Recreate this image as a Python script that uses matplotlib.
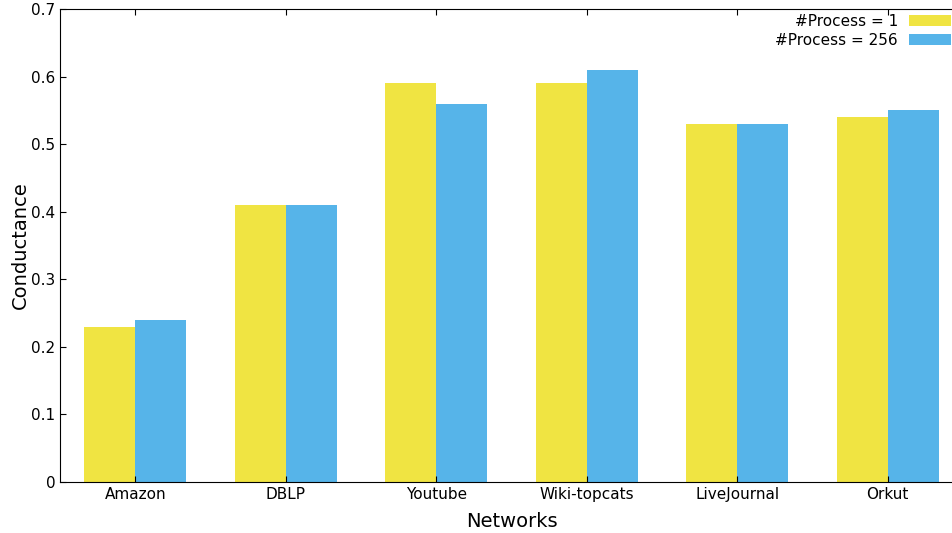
import matplotlib
matplotlib.use('Agg')
import matplotlib.pyplot as plt
import numpy as np

networks = ['Amazon', 'DBLP', 'Youtube', 'Wiki-topcats', 'LiveJournal', 'Orkut']
proc1 = [0.23, 0.41, 0.59, 0.59, 0.53, 0.54]
proc256 = [0.24, 0.41, 0.56, 0.61, 0.53, 0.55]
labels = ['#Process = 1', '#Process = 256']

plt.rcParams['font.family'] = 'DejaVu Sans'
fig = plt.figure(figsize=(9.53, 5.33), dpi=100)
ax = fig.add_axes([0.063, 0.0957, 0.9475, 0.8874])

x = np.arange(len(networks))
w = 0.34
ax.bar(x - w / 2, proc1, w, color='#F0E442', label=labels[0])
ax.bar(x + w / 2, proc256, w, color='#56B4E9', label=labels[1])

ax.set_xlim(-0.5, 5.5)
ax.set_ylim(0, 0.7)
ax.set_xticks(x)
ax.set_xticklabels(networks, fontsize=11)
ax.set_yticks(np.arange(0, 0.71, 0.1))
ax.set_yticklabels(['0', '0.1', '0.2', '0.3', '0.4', '0.5', '0.6', '0.7'], fontsize=11)
ax.tick_params(direction='in', length=4, top=True, right=False)
ax.spines['right'].set_visible(False)
ax.set_xlabel('Networks', fontsize=14, labelpad=7)
ax.set_ylabel('Conductance', fontsize=14, labelpad=1)

ax.legend(loc='upper right', frameon=False, markerfirst=False, fontsize=11,
          handlelength=2.8, handletextpad=0.7, borderaxespad=0.0, labelspacing=0.25,
          bbox_to_anchor=(0.994, 1.002))

fig.savefig('out.png', dpi=100)
